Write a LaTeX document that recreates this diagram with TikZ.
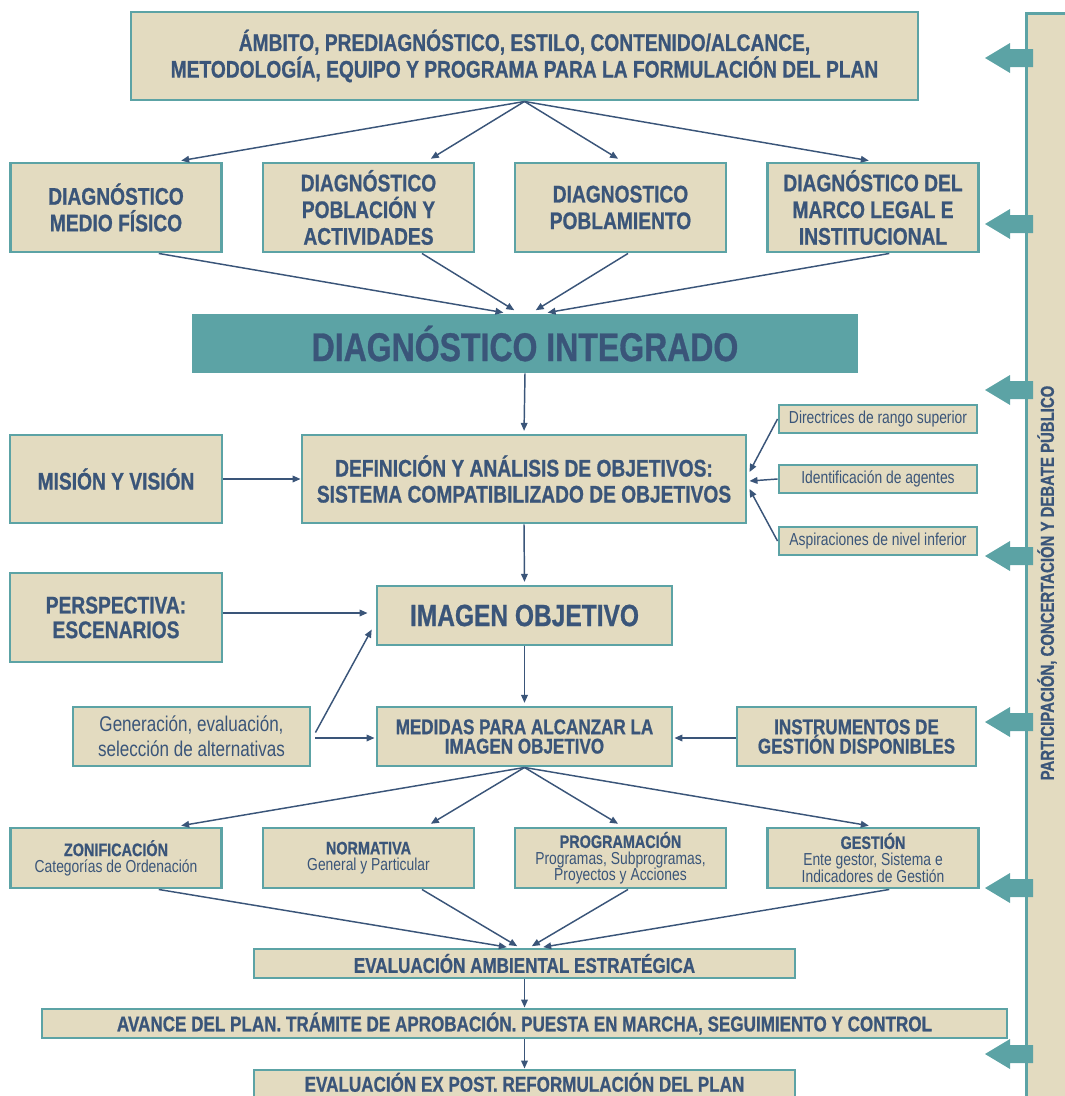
\documentclass[tikz,border=0pt]{standalone}
\usepackage{fontspec}
\setmainfont{Liberation Sans}[FakeStretch=0.8, BoldFeatures={FakeBold=0.8}]
\usetikzlibrary{arrows.meta,calc}
\definecolor{sand}{HTML}{E3DBC0}
\definecolor{tealc}{HTML}{5CA3A5}
\definecolor{navy}{HTML}{3A5579}
\begin{document}
\begin{tikzpicture}[x=0.75pt,y=-0.75pt,
  box/.style n args={2}{draw=tealc, line width=2.2pt, fill=sand,
    minimum width=#1*0.75pt, minimum height=#2*0.75pt, inner sep=0pt,
    align=center, text=navy},
  fbig/.style={font=\bfseries\fontsize{18}{20}\selectfont},
  fmid/.style={font=\bfseries\fontsize{16}{14.5}\selectfont},
  fsmall/.style={font=\fontsize{13}{12.2}\selectfont},
  arr/.style={draw=navy, line width=1.1pt, -{Triangle[length=6pt,width=5pt]}},
  blockarrow/.style={fill=tealc}]
\useasboundingbox (0,0) rectangle (1064,1096);

% side bar: participation along the whole process
\node[box={60}{1100}, anchor=north west] (bar) at (1025,12) {};
\node[rotate=90, text=navy, font=\bfseries\fontsize{14}{14}\selectfont] (bartext) at (1047,583)
  {PARTICIPACIÓN, CONCERTACIÓN Y DEBATE PÚBLICO};
\foreach \yy in {58,224,390,556,722,888,1054}
  \fill[blockarrow] (985,\yy) -- (1010,\yy-15) -- (1010,\yy-9) -- (1033,\yy-9)
    -- (1033,\yy+9) -- (1010,\yy+9) -- (1010,\yy+15) -- cycle;

% formulation frame
\node[box={787}{88}, fbig] (top) at (524.5,56)
  {ÁMBITO, PREDIAGNÓSTICO, ESTILO, CONTENIDO/ALCANCE,\\METODOLOGÍA, EQUIPO Y PROGRAMA PARA LA FORMULACIÓN DEL PLAN};

% sectoral diagnoses
\node[box={211}{89}, fbig] (d1) at (116,207.5) {DIAGNÓSTICO\\MEDIO FÍSICO};
\node[box={211}{89}, fbig] (d2) at (368.5,207.5) {DIAGNÓSTICO\\POBLACIÓN Y\\ACTIVIDADES};
\node[box={211}{89}, fbig] (d3) at (620.5,207.5) {DIAGNOSTICO\\POBLAMIENTO};
\node[box={211}{89}, fbig] (d4) at (873,207.5) {DIAGNÓSTICO DEL\\MARCO LEGAL E\\INSTITUCIONAL};

\node[fill=tealc, minimum width=666*0.75pt, minimum height=59*0.75pt, inner sep=0pt,
  text=navy, font=\bfseries\fontsize{30}{30}\selectfont] (di) at (525,343.5) {DIAGNÓSTICO INTEGRADO};

% objectives
\node[box={212}{88}, fbig] (mis) at (116,479) {MISIÓN Y VISIÓN};
\node[box={444}{88}, font=\bfseries\fontsize{18}{19.5}\selectfont] (def) at (524,479)
  {DEFINICIÓN Y ANÁLISIS DE OBJETIVOS:\\SISTEMA COMPATIBILIZADO DE OBJETIVOS};
\node[box={198}{28}, fsmall] (dir) at (878,419) {Directrices de rango superior};
\node[box={198}{28}, fsmall] (ide) at (878,479) {Identificación de agentes};
\node[box={198}{28}, fsmall] (asp) at (878,541) {Aspiraciones de nivel inferior};

% target image
\node[box={212}{89}, font=\bfseries\fontsize{18}{18.5}\selectfont] (per) at (116,617.5) {PERSPECTIVA:\\ESCENARIOS};
\node[box={295}{59}, font=\bfseries\fontsize{23}{23}\selectfont] (img) at (524.5,615.5) {IMAGEN OBJETIVO};
\node[box={237}{59}, font=\fontsize{16}{18.5}\selectfont] (gen) at (191.5,736.5)
  {Generación, evaluación,\\selección de alternativas};
\node[box={295}{59}, fmid] (med) at (524.5,736.5) {MEDIDAS PARA ALCANZAR LA\\IMAGEN OBJETIVO};
\node[box={239}{59}, fmid] (ins) at (856.5,736.5) {INSTRUMENTOS DE\\GESTIÓN DISPONIBLES};

% measures
\node[box={211}{60}, fsmall] (z1) at (116,858)
  {{\bfseries\fontsize{13.5}{12}\selectfont ZONIFICACIÓN}\\Categorías de Ordenación};
\node[box={211}{60}, fsmall] (z2) at (368.5,858)
  {{\bfseries\fontsize{13.5}{12}\selectfont NORMATIVA}\\General y Particular};
\node[box={211}{60}, fsmall] (z3) at (620.5,858)
  {{\bfseries\fontsize{13.5}{12}\selectfont PROGRAMACIÓN}\\Programas, Subprogramas,\\Proyectos y Acciones};
\node[box={211}{60}, fsmall] (z4) at (873,858)
  {{\bfseries\fontsize{13.5}{12}\selectfont GESTIÓN}\\Ente gestor, Sistema e\\Indicadores de Gestión};

% approval and follow-up
\node[box={541}{29}, fmid] (eae) at (524.5,963.5) {EVALUACIÓN AMBIENTAL ESTRATÉGICA};
\node[box={965}{29}, fmid] (ava) at (524.5,1023.5)
  {AVANCE DEL PLAN. TRÁMITE DE APROBACIÓN. PUESTA EN MARCHA, SEGUIMIENTO Y CONTROL};
\node[box={541}{34}, fmid, text height=12pt, text depth=5pt] (exp) at (524.5,1087)
  {EVALUACIÓN EX POST. REFORMULACIÓN DEL PLAN};

% connectors
\foreach \n/\r in {d1/0.78,d2/0.77,d3/0.51,d4/0.505}
  \draw[arr, shorten >=4] (top.south) -- ($(\n.north west)!\r!(\n.north east)$);
\foreach \n/\r/\o in {d1/0.70/-15,d2/0.75/-5,d3/0.535/5,d4/0.576/16}
  \draw[arr, shorten >=5] ($(\n.south west)!\r!(\n.south east)$) -- ($(di.north)+(\o,0)$);
\draw[arr, shorten >=2] (di.south) -- (def.north);
\draw[arr] (mis.east) -- (def.west);
\draw[arr] (dir.west) -- ($(def.east)+(2,-7)$);
\draw[arr] (ide.west) -- ($(def.east)+(2,2)$);
\draw[arr] (asp.west) -- ($(def.east)+(2,10)$);
\draw[arr, shorten >=2] (def.south) -- (img.north);
\draw[arr, shorten >=6] ($(per.east)+(0,-4.5)$) -- ($(img.west)+(0,-2.5)$);
\draw[arr, shorten >=6] ($(gen.east)+(4,-4)$) -- ($(img.west)+(0,7)$);
\draw[arr] ($(gen.east)+(4,1.5)$) -- ($(med.west)+(-1,1.5)$);
\draw[arr] ($(ins.west)+(0,1.5)$) -- ($(med.east)+(1,1.5)$);
\draw[arr, shorten >=2] (img.south) -- (med.north);
\foreach \n/\r in {z1/0.78,z2/0.77,z3/0.51,z4/0.505}
  \draw[arr, shorten >=4] (med.south) -- ($(\n.north west)!\r!(\n.north east)$);
\foreach \n/\r/\o in {z1/0.70/-15,z2/0.75/-5,z3/0.535/5,z4/0.576/16}
  \draw[arr, shorten >=2] ($(\n.south west)!\r!(\n.south east)$) -- ($(eae.north)+(\o,0)$);
\draw[arr] (eae.south) -- (ava.north);
\draw[arr] (ava.south) -- (exp.north);
\end{tikzpicture}
\end{document}
